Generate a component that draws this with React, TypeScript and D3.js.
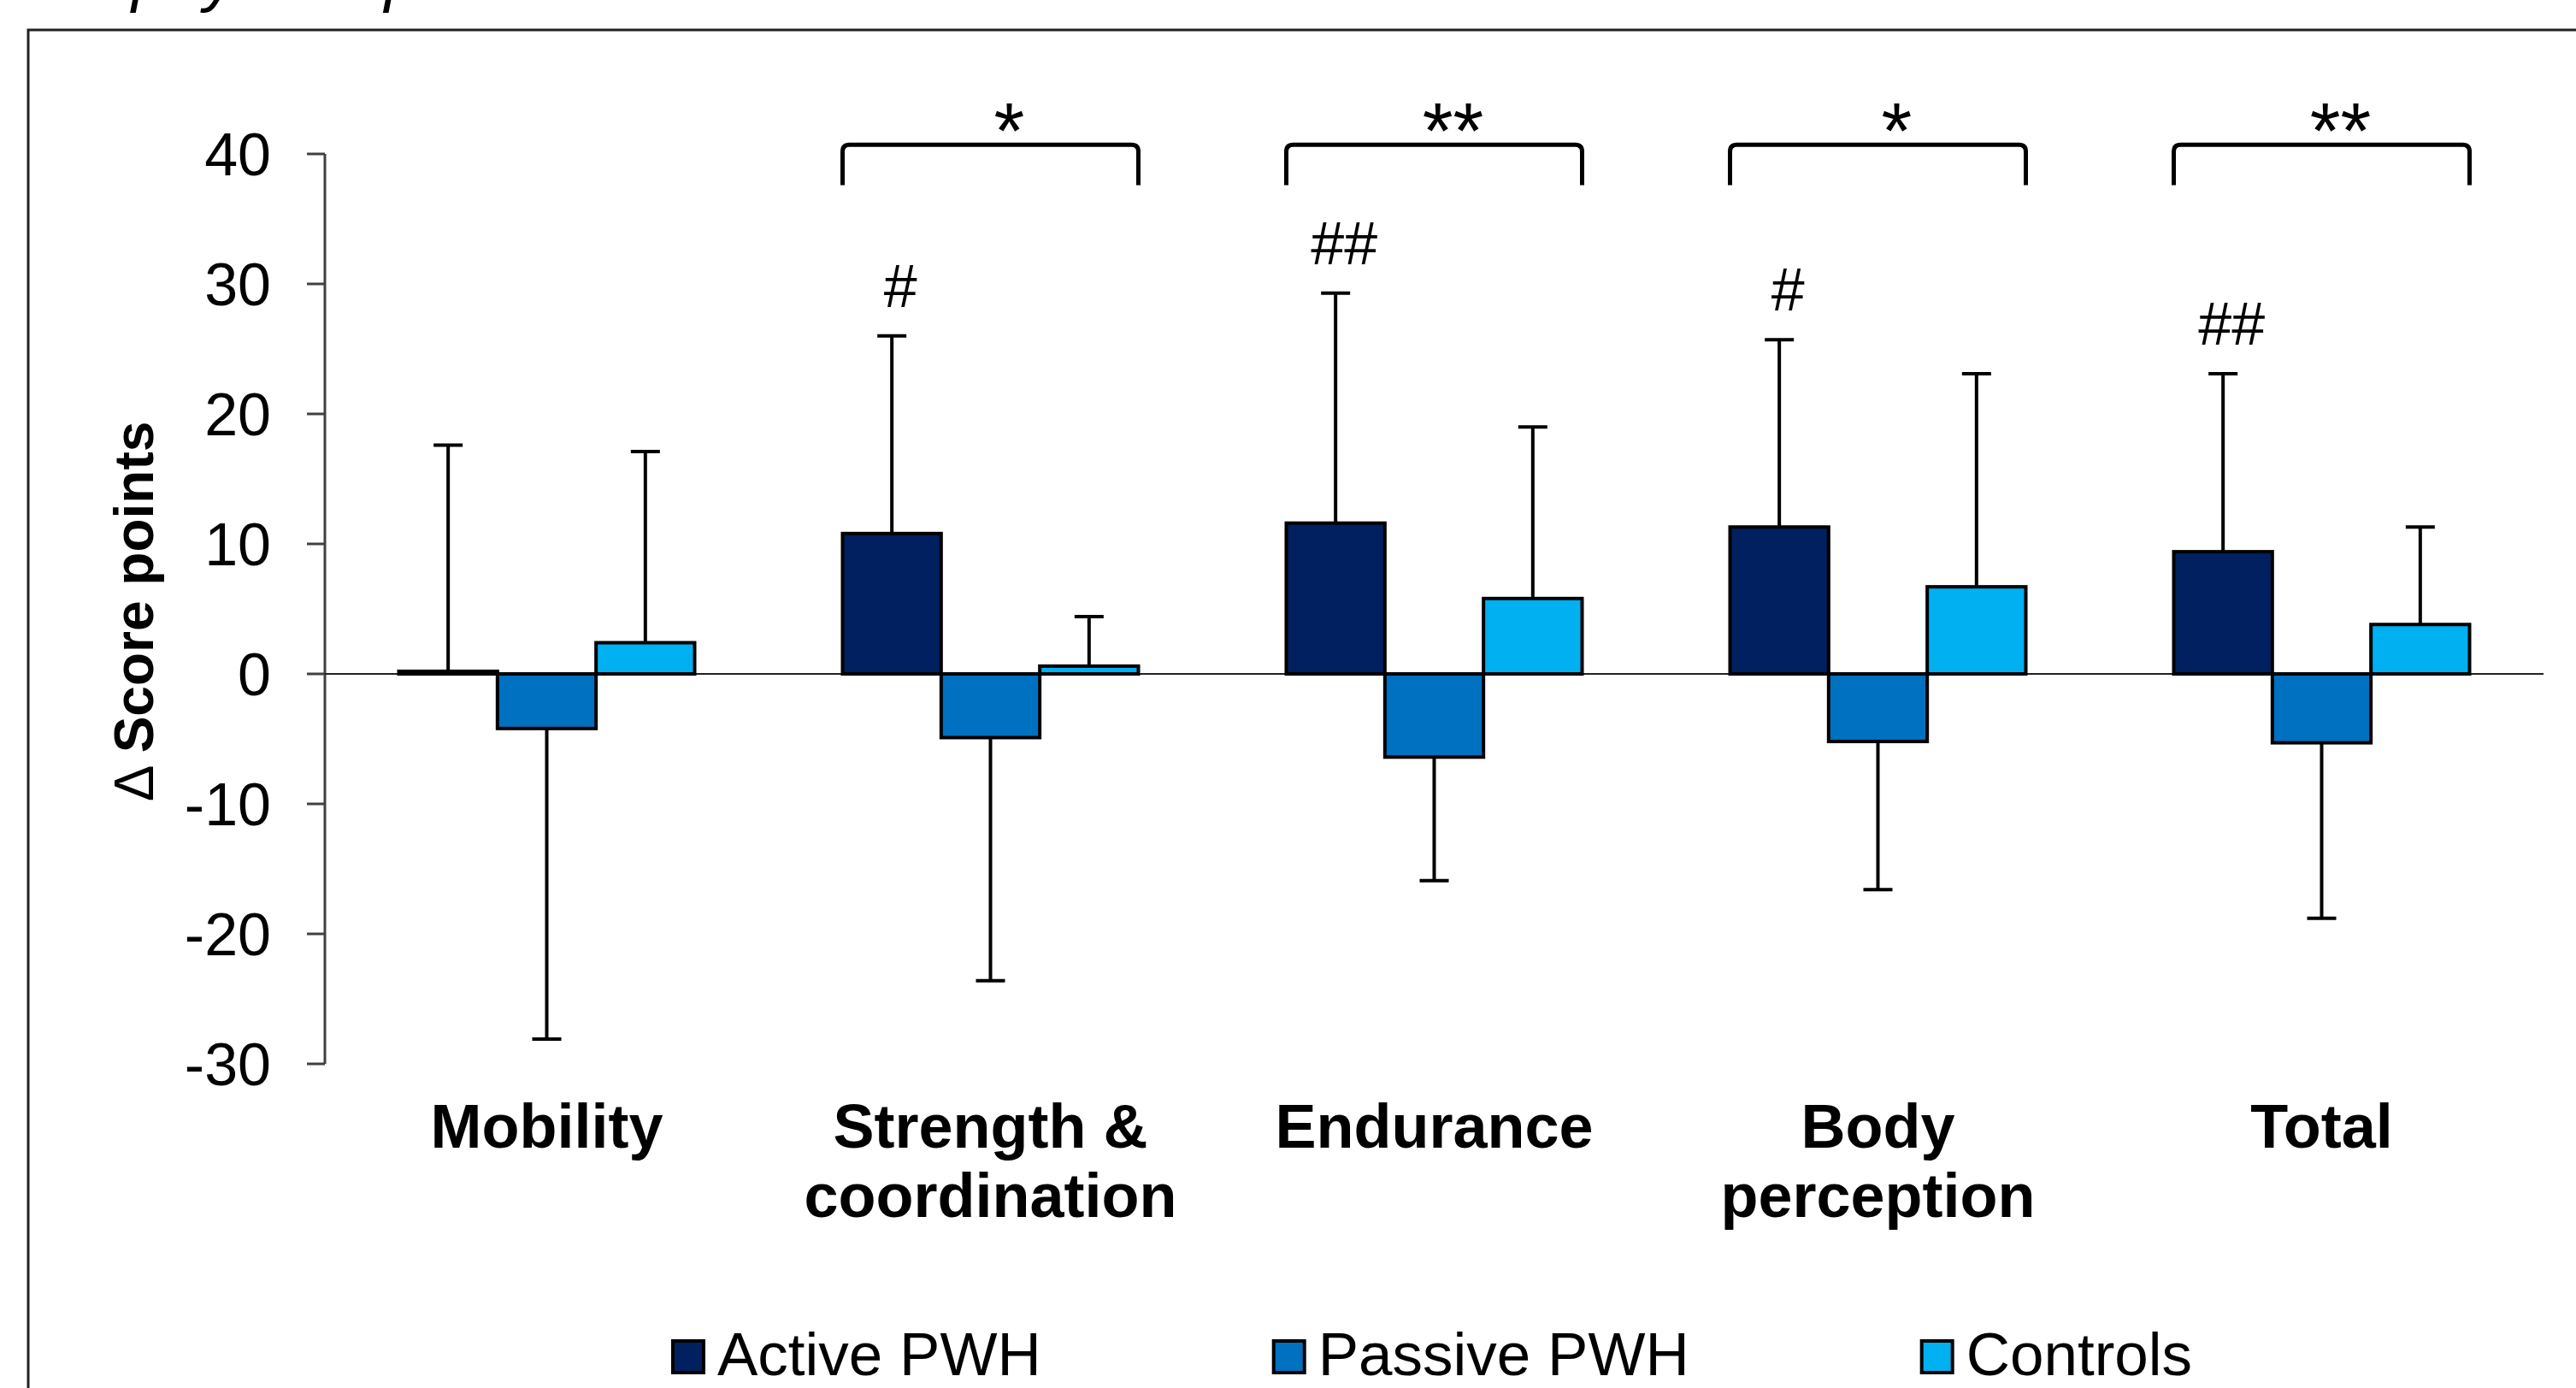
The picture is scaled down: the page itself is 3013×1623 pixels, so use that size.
import { useEffect, useMemo } from 'react'
import * as d3 from 'd3'

// chart data
const categories = ['Mobility', 'Strength & coordination', 'Endurance', 'Body perception', 'Total']
const categoryLines = [['Mobility'], ['Strength &', 'coordination'], ['Endurance'], ['Body', 'perception'], ['Total']]
const seriesNames = ['Active PWH', 'Passive PWH', 'Controls']
const seriesColors = ['#002060', '#0070C0', '#00B0F0']

const activeMean = [0.2, 10.8, 11.6, 11.3, 9.4]
const activeSD = [17.4, 15.2, 17.7, 14.4, 13.7]
const passiveMean = [-4.2, -4.9, -6.4, -5.2, -5.3]
const passiveSD = [23.9, 18.7, 9.5, 11.4, 13.5]
const controlsMean = [2.4, 0.6, 5.8, 6.7, 3.8]
const controlsSD = [14.7, 3.8, 13.2, 16.4, 7.5]

const hashMarks = ['', '#', '##', '#', '##']
const groupStars = ['', '*', '**', '*', '**']
const bracketLevel = 40.7
const bracketLegLevel = 37.6

const yTicks = [-30, -20, -10, 0, 10, 20, 30, 40]

// caption above the frame, cut off at the top of the picture
const captionText = 'physical performance'

const W = 3013
const H = 1623
const FONT = '"Liberation Sans", Arial, sans-serif'

export default function App() {
  useEffect(() => {
    document.body.style.margin = '0'
  }, [])

  const x = d3.scaleBand<string>()
    .domain(categories)
    .range([380, 2975])
    .paddingInner(1 / 3)
    .paddingOuter(1 / 6)

  const xs = d3.scaleBand<string>()
    .domain(seriesNames)
    .range([0, x.bandwidth()])
    .padding(0)

  const y = d3.scaleLinear().domain([-30, 40]).range([1244, 180])

  const means = [activeMean, passiveMean, controlsMean]
  const sds = [activeSD, passiveSD, controlsSD]

  // legend layout from measured text widths
  const legendItems = useMemo(() => {
    const ctx = document.createElement('canvas').getContext('2d')!
    ctx.font = `71px ${FONT}`
    let cx = 785
    return seriesNames.map((name, i) => {
      const w = ctx.measureText(name).width
      const item = { name, color: seriesColors[i], x: cx }
      cx += 40 + 14 + w + 270
      return item
    })
  }, [])

  const capW = 34

  return (
    <svg width={W} height={H} style={{ position: 'absolute', left: 0, top: 0, background: '#fff' }} fontFamily={FONT}>
      <rect x={0} y={0} width={W} height={H} fill="#fff" />
      <text x={154} y={-1} fontSize={76} fontStyle="italic" fill="#000">{captionText}</text>
      {/* outer frame */}
      <rect x={33} y={35} width={W + 40} height={H + 40} fill="none" stroke="#222" strokeWidth={3} />

      {/* y axis */}
      <line x1={380} x2={380} y1={y(40)} y2={y(-30)} stroke="#404040" strokeWidth={3} />
      {yTicks.map(t => (
        <g key={t}>
          <line x1={359} x2={380} y1={y(t)} y2={y(t)} stroke="#404040" strokeWidth={3} />
          <text x={317} y={y(t) + 25} textAnchor="end" fontSize={70} fill="#000">{t}</text>
        </g>
      ))}
      <text transform={`translate(179, 715) rotate(-90)`} textAnchor="middle" fontSize={64} fill="#000">
        <tspan>Δ </tspan>
        <tspan fontWeight="bold">Score points</tspan>
      </text>

      {/* zero line */}
      <line x1={380} x2={2975} y1={y(0)} y2={y(0)} stroke="#222" strokeWidth={2} />

      {/* bars */}
      {categories.map((cat, ci) => (
        <g key={cat} transform={`translate(${x(cat)}, 0)`}>
          {seriesNames.map((s, si) => {
            const m = means[si][ci]
            const sd = sds[si][ci]
            const bx = xs(s)!
            const bw = xs.bandwidth()
            const cx = bx + bw / 2
            const end = m >= 0 ? m + sd : m - sd
            return (
              <g key={s}>
                <line x1={cx} x2={cx} y1={y(m)} y2={y(end)} stroke="#000" strokeWidth={4} />
                <line x1={cx - capW / 2} x2={cx + capW / 2} y1={y(end)} y2={y(end)} stroke="#000" strokeWidth={4} />
                <rect
                  x={bx}
                  y={Math.min(y(m), y(0))}
                  width={bw}
                  height={Math.abs(y(m) - y(0))}
                  fill={seriesColors[si]}
                  stroke="#000"
                  strokeWidth={4}
                />
                {si === 0 && hashMarks[ci] && (
                  <text x={cx + 10} y={y(end) - 34} textAnchor="middle" fontSize={70} fill="#000">{hashMarks[ci]}</text>
                )}
              </g>
            )
          })}
        </g>
      ))}

      {/* significance brackets */}
      {categories.map((cat, ci) => {
        if (!groupStars[ci]) return null
        const x0 = x(cat)!
        const x1 = x0 + x.bandwidth()
        const yt = y(bracketLevel)
        const yl = y(bracketLegLevel)
        const r = 8
        const d = `M${x0},${yl} L${x0},${yt + r} Q${x0},${yt} ${x0 + r},${yt} L${x1 - r},${yt} Q${x1},${yt} ${x1},${yt + r} L${x1},${yl}`
        return (
          <g key={cat}>
            <path d={d} fill="none" stroke="#000" strokeWidth={5} />
            <text x={(x0 + x1) / 2 + 22} y={yt + 16} textAnchor="middle" fontSize={92} fill="#000">{groupStars[ci]}</text>
          </g>
        )
      })}

      {/* category labels */}
      {categories.map((cat, ci) => (
        <text key={cat} x={x(cat)! + x.bandwidth() / 2} y={1342} textAnchor="middle" fontSize={72} fontWeight="bold" fill="#000">
          {categoryLines[ci].map((ln, li) => (
            <tspan key={li} x={x(cat)! + x.bandwidth() / 2} dy={li === 0 ? 0 : 81}>{ln}</tspan>
          ))}
        </text>
      ))}

      {/* legend */}
      {legendItems.map(it => (
        <g key={it.name}>
          <rect x={it.x + 2} y={1568} width={36} height={37} fill={it.color} stroke="#000" strokeWidth={4} />
          <text x={it.x + 54} y={1608} fontSize={71} fill="#000">{it.name}</text>
        </g>
      ))}
    </svg>
  )
}
